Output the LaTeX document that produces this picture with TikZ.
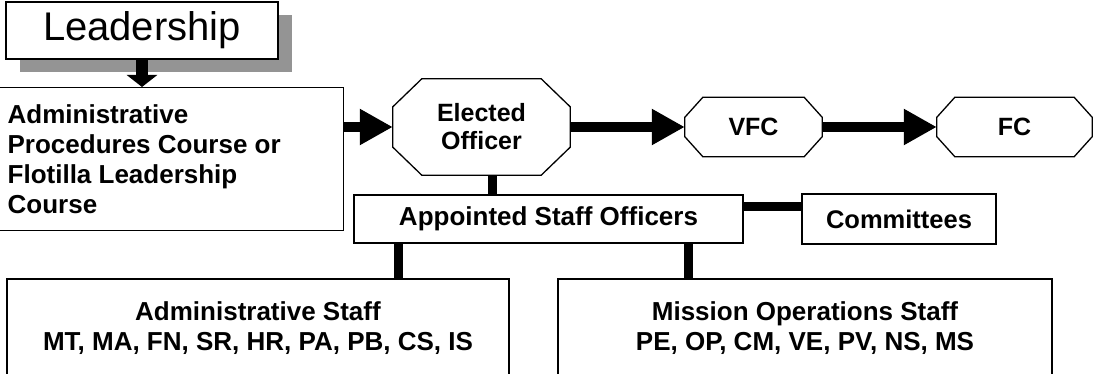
\documentclass[tikz,border=0pt]{standalone}
\usepackage{fontspec}
\setmainfont{Liberation Sans}
\usetikzlibrary{arrows.meta,shadows}

\begin{document}
\begin{tikzpicture}[x=1pt, y=-1pt,
        box/.style={draw, fill=white, line width=1.3pt, rectangle, inner sep=0pt, align=center},
        octo/.style={rectangle, inner sep=0pt, align=center, font=\bfseries\fontsize{25}{28}\selectfont},
        bar/.style={line width=9pt},
        flow/.style={line width=10pt, -{Triangle[length=33pt, width=34pt]}}
    ]
        \useasboundingbox (0,0) rectangle (1094,374);

        \node (lead) [box, minimum width=272pt, minimum height=57pt, font=\fontsize{40}{44}\selectfont,
            copy shadow={shadow xshift=14pt, shadow yshift=-13pt, fill=black!42, draw=none}]
            at (142,30.5) {Leadership};
        \node (apc) [box, anchor=north west, inner xsep=10pt, align=left, font=\bfseries\fontsize{26}{30}\selectfont]
            at (-3,87) {\begin{minipage}[c][143pt][t]{326pt}\vspace{17pt}Administrative\\Procedures Course or\\Flotilla Leadership\\Course\end{minipage}};

        \node (eo) [octo, minimum width=177pt, minimum height=96pt] at (481.5,127) {Elected\\Officer};
        \node (vfc) [octo, minimum width=137pt, minimum height=59pt] at (753.5,127) {VFC};
        \node (fc) [octo, minimum width=155pt, minimum height=59pt] at (1014.5,127) {FC};

        % cut corners of the officer boxes
        \foreach \n/\cx/\cy in {eo/29/28, vfc/18/20, fc/18/20} {
            \draw [line width=1.3pt] ([xshift=\cx pt]\n.north west) -- ([xshift=-\cx pt]\n.north east)
                -- ([yshift=-\cy pt]\n.north east) -- ([yshift=\cy pt]\n.south east)
                -- ([xshift=-\cx pt]\n.south east) -- ([xshift=\cx pt]\n.south west)
                -- ([yshift=\cy pt]\n.south west) -- ([yshift=-\cy pt]\n.north west) -- cycle;
        }

        \node (aso) [box, minimum width=389pt, minimum height=48pt, font=\bfseries\fontsize{26}{30}\selectfont]
            at (548.5,219) {Appointed Staff Officers};
        \node (com) [box, minimum width=194pt, minimum height=50pt, font=\bfseries\fontsize{25.5}{30}\selectfont]
            at (899,219) {Committees};

        \node (adm) [box, minimum width=502pt, minimum height=98pt, font=\bfseries\fontsize{26}{30}\selectfont]
            at (258,328) {Administrative Staff\\MT, MA, FN, SR, HR, PA, PB, CS, IS};
        \node (mos) [box, minimum width=494pt, minimum height=98pt, font=\bfseries\fontsize{26}{30}\selectfont]
            at (805,328) {Mission Operations Staff\\PE, OP, CM, VE, PV, NS, MS};

        % arrows
        \draw [line width=12pt, -{Triangle[length=12pt, width=30pt]}] (lead.south) -- (lead.south |- apc.north);
        \draw [flow] (apc.east |- eo.west) -- (eo.west);
        \draw [flow] (eo.east) -- (vfc.west);
        \draw [flow] (vfc.east) -- (fc.west);

        % staff lines
        \draw [bar] ([xshift=10.5pt]eo.south) -- ([xshift=10.5pt]eo.south |- aso.north);
        \draw [bar] ([yshift=13pt]aso.east) -- ([yshift=13pt]aso.east -| com.west);
        \draw [bar] ([xshift=-150.5pt]aso.south) -- ([xshift=-150.5pt]aso.south |- adm.north);
        \draw [bar] ([xshift=139.5pt]aso.south) -- ([xshift=139.5pt]aso.south |- mos.north);
    \end{tikzpicture}
\end{document}
